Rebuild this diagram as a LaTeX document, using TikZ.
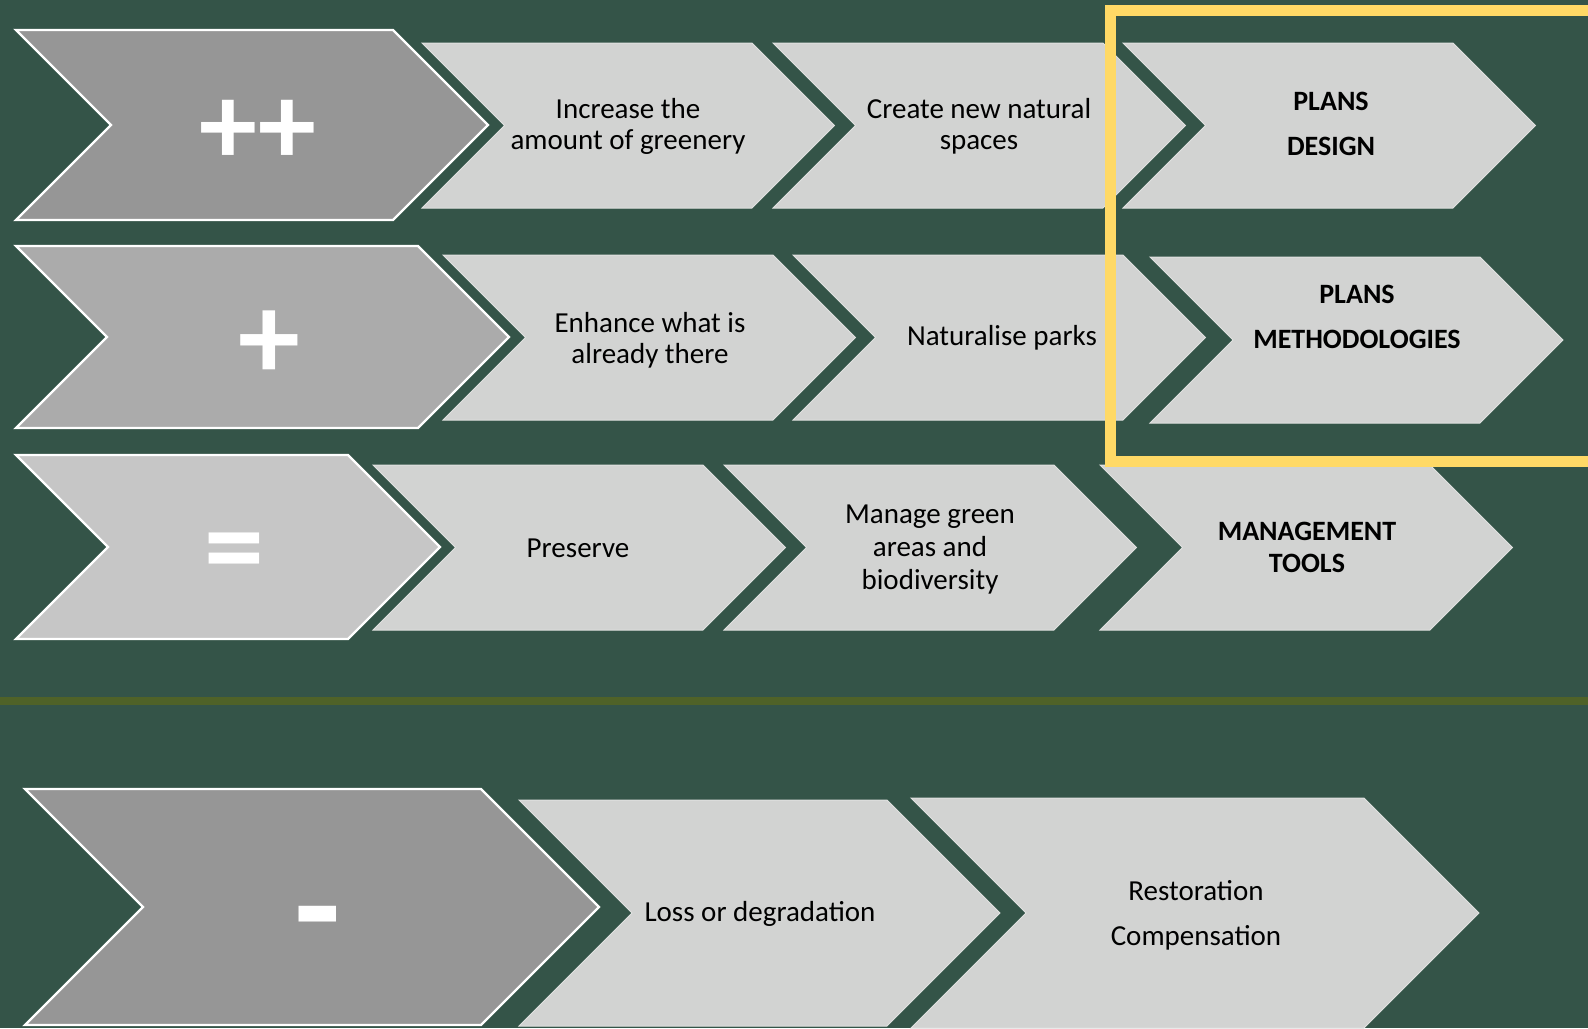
\documentclass[tikz,border=0pt]{standalone}
\usepackage{fontspec}
\setmainfont{Carlito}
\usetikzlibrary{calc,positioning}
\usepackage{xcolor}

\definecolor{bgGreen}{RGB}{52,84,72}
\definecolor{chevLight}{RGB}{210,211,210}
\definecolor{chevEdge}{RGB}{224,225,224}
\definecolor{greyDark}{RGB}{150,150,150}
\definecolor{greyMid}{RGB}{171,171,171}
\definecolor{greyLight}{RGB}{198,198,198}
\definecolor{boxYellow}{RGB}{255,217,102}
\definecolor{lineOlive}{RGB}{79,98,40}

% chevron: style, left, right, top, bottom
\newcommand{\chevbox}[5]{\draw[#1] (#2,#4) -- (#3,#4) -- ({#3+(#5-#4)/2},{(#4+#5)/2}) -- (#3,#5) -- (#2,#5) -- ({#2+(#5-#4)/2},{(#4+#5)/2}) -- cycle;}

\begin{document}
\begin{tikzpicture}[x=0.5pt, y=-0.5pt,
	bigchev/.style = {draw=white, line width=1.2pt},
	smallchev/.style = {fill=chevLight, draw=chevEdge, line width=0.5pt},
	lbl/.style = {align=center, inner sep=0, font=\fontsize{14.5}{15.5}\selectfont},
	boldlbl/.style = {align=center, inner sep=0, font=\fontsize{14}{16}\selectfont\bfseries},
	sym/.style = {text=white, inner sep=0}]
		\fill[bgGreen] (0,0) rectangle (1588,1028);
		\useasboundingbox (0,0) rectangle (1588,1028);
		% row ++
		\chevbox{bigchev, fill=greyDark}{16}{393}{30}{220}
		\chevbox{smallchev}{422}{752}{43}{208}
		\chevbox{smallchev}{773}{1103}{43}{208}
		\chevbox{smallchev}{1123}{1453}{43}{208}
		% row +
		\chevbox{bigchev, fill=greyMid}{16}{418}{246}{428}
		\chevbox{smallchev}{443}{773}{255}{420}
		\chevbox{smallchev}{793}{1123}{255}{420}
		\chevbox{smallchev}{1150}{1480}{257}{423}
		% row =
		\chevbox{bigchev, fill=greyLight}{16}{348}{455}{639}
		\chevbox{smallchev}{373}{703}{465}{630}
		\chevbox{smallchev}{724}{1054}{465}{630}
		\chevbox{smallchev}{1100}{1430}{465}{630}
		% row -
		\chevbox{bigchev, fill=greyDark}{25}{481}{789}{1025}
		\chevbox{smallchev}{519}{887}{800}{1026}
		\chevbox{smallchev}{911}{1364}{798}{1028}

		\node[sym, font=\fontsize{58}{58}\selectfont\bfseries] (pp) at (258,132) {++};
		\node[sym, font=\fontsize{62}{62}\selectfont\bfseries] (plus) at (269,345) {+};
		\node[sym, font=\fontsize{60}{60}\selectfont\bfseries] (eq) at (234,560) {=};
		\node[sym, font=\fontsize{76}{76}\selectfont\bfseries] (minus) at (318,932) {-};

		\node[lbl] (incr) at (628,126) {Increase the\\amount of greenery};
		\node[lbl] (create) at (979,126) {Create new natural\\spaces};
		\node[boldlbl, font=\fontsize{14}{22.5}\selectfont\bfseries] (design) at (1331,124) {PLANS\\DESIGN};
		\node[lbl] (enhance) at (650,340) {Enhance what is\\already there};
		\node[lbl] (natur) at (1002,338) {Naturalise parks};
		\node[boldlbl, font=\fontsize{14}{22.5}\selectfont\bfseries] (methods) at (1357,317) {PLANS\\METHODOLOGIES};
		\node[lbl] (preserve) at (578,548) {Preserve};
		\node[lbl, font=\fontsize{14.5}{16.5}\selectfont] (manage) at (930,550) {Manage green\\areas and\\biodiversity};
		\node[boldlbl] (tools) at (1307,547) {MANAGEMENT\\TOOLS};
		\node[lbl] (loss) at (760,914) {Loss or degradation};
		\node[lbl, font=\fontsize{14.5}{22.5}\selectfont] (restore) at (1196,915) {Restoration\\Compensation};

		\draw[lineOlive, line width=4pt] (0,701) -- (1588,701);
		\draw[boxYellow, line width=5.5pt] (1592,10) -- (1110,10) -- (1110,461) -- (1592,461);
	\end{tikzpicture}
\end{document}
